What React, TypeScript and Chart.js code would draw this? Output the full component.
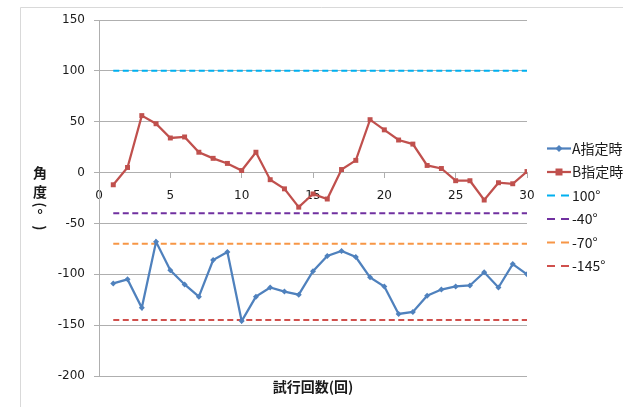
import React, { useEffect, useRef } from "react";
import { Chart, registerables } from "chart.js";

Chart.register(...registerables);

// 試行回数
const trials = [1, 2, 3, 4, 5, 6, 7, 8, 9, 10, 11, 12, 13, 14, 15, 16, 17, 18, 19, 20, 21, 22, 23, 24, 25, 26, 27, 28, 29, 30];

// 角度 (°)
const angleA = [-109, -105, -133, -68, -96, -110, -122, -86, -78, -146, -122, -113, -117, -120, -97, -82, -77, -83, -103, -112, -139, -137, -121, -115, -112, -111, -98, -113, -90, -100];
const angleB = [-12, 5, 56, 48, 34, 35, 20, 14, 9, 2, 20, -7, -16, -34, -21, -26, 3, 12, 52, 42, 32, 28, 7, 4, -8, -8, -27, -10, -11, 1];

// 基準線
const refLevels = [100, -40, -70, -145];
const refLabels = ["100°", "-40°", "-70°", "-145°"];
const refColors = ["#00B0F0", "#7030A0", "#F79646", "#D0504D"];

const seriesNames = ["A指定時", "B指定時"];
const seriesColors = ["#4F81BD", "#C0504D"];

const yTitleChars = ["角", "度", "(", "°", ")"];
const xTitle = "試行回数(回)";

const TICK_FONT = "'DejaVu Sans', 'Noto Sans CJK JP', sans-serif";
const TITLE_FONT = "'Noto Sans CJK JP', 'DejaVu Sans', sans-serif";
const GRID = "#AFAFAF";

const framePlugin = {
  id: "frame",
  beforeDraw(chart: any) {
    const { ctx, width, height } = chart;
    ctx.save();
    ctx.fillStyle = "#ffffff";
    ctx.fillRect(0, 0, width, height);
    ctx.strokeStyle = "#D9D9D9";
    ctx.lineWidth = 1;
    ctx.beginPath();
    ctx.moveTo(20.5, height);
    ctx.lineTo(20.5, 7.5);
    ctx.lineTo(width, 7.5);
    ctx.stroke();
    ctx.restore();
  },
};

const titlesPlugin = {
  id: "axisTitles",
  afterDraw(chart: any) {
    const { ctx, chartArea } = chart;
    ctx.save();
    ctx.fillStyle = "#1a1a1a";
    ctx.font = `bold 14px ${TITLE_FONT}`;
    ctx.textAlign = "center";
    ctx.textBaseline = "middle";
    ctx.fillText(xTitle, (chartArea.left + chartArea.right) / 2, 387);

    // vertical stacked y-axis title
    const ys = [173, 192, 205, 215, 228];
    yTitleChars.forEach((ch, i) => {
      ctx.save();
      ctx.translate(40, ys[i]);
      if (ch === "(" || ch === ")") ctx.rotate(Math.PI / 2);
      ctx.fillText(ch, 0, 0);
      ctx.restore();
    });
    ctx.restore();
  },
};

const legendPlugin = {
  id: "sideLegend",
  afterDraw(chart: any) {
    const { ctx } = chart;
    const x0 = 547;
    const x1 = 571;
    const textX = 572;
    const top = 148.5;
    const step = 23.5;
    ctx.save();
    ctx.font = `14px ${TITLE_FONT}`;
    ctx.textBaseline = "middle";
    ctx.textAlign = "left";
    chart.data.datasets.forEach((ds: any, i: number) => {
      const y = top + i * step;
      ctx.strokeStyle = ds.borderColor;
      ctx.lineWidth = ds.borderWidth;
      if (ds.borderDash) {
        ctx.setLineDash([8, 6]);
        ctx.beginPath();
        ctx.moveTo(x0, y);
        ctx.lineTo(x1 - 2, y);
        ctx.stroke();
        ctx.setLineDash([]);
      } else {
        ctx.beginPath();
        ctx.moveTo(x0, y);
        ctx.lineTo(x1, y);
        ctx.stroke();
      }
      if (ds.pointRadius > 0) {
        const cx = (x0 + x1) / 2;
        ctx.fillStyle = ds.pointBackgroundColor;
        ctx.beginPath();
        if (ds.pointStyle === "rect") {
          const r = ds.pointRadius;
          ctx.rect(cx - r, y - r, r * 2, r * 2);
        } else {
          const r = ds.pointRadius + 0.5;
          ctx.moveTo(cx, y - r);
          ctx.lineTo(cx + r, y);
          ctx.lineTo(cx, y + r);
          ctx.lineTo(cx - r, y);
          ctx.closePath();
        }
        ctx.fill();
      }
      ctx.fillStyle = "#1a1a1a";
      ctx.fillText(ds.label, textX, y);
    });
    ctx.restore();
  },
};

export default function App() {
  const canvasRef = useRef<HTMLCanvasElement | null>(null);

  useEffect(() => {
    if (!canvasRef.current) return;

    const seriesSets = [angleA, angleB].map((vals, i) => ({
      label: seriesNames[i],
      data: trials.map((t, k) => ({ x: t, y: vals[k] })),
      showLine: true,
      borderColor: seriesColors[i],
      backgroundColor: seriesColors[i],
      pointBackgroundColor: seriesColors[i],
      pointBorderColor: seriesColors[i],
      borderWidth: 2.25,
      pointStyle: i === 0 ? "rectRot" : "rect",
      pointRadius: i === 0 ? 3 : 3.5,
      pointBorderWidth: 0,
    }));

    const refSets = refLevels.map((lvl, i) => ({
      label: refLabels[i],
      data: [
        { x: trials[0], y: lvl },
        { x: trials[trials.length - 1], y: lvl },
      ],
      showLine: true,
      borderColor: refColors[i],
      backgroundColor: refColors[i],
      pointBackgroundColor: refColors[i],
      borderWidth: 2,
      borderDash: [6, 3.5],
      pointRadius: 0,
    }));

    const chart = new Chart(canvasRef.current, {
      type: "scatter",
      data: { datasets: [...seriesSets, ...refSets] as any },
      options: {
        animation: false,
        responsive: false,
        events: [],
        layout: { padding: { left: 0, top: 20, right: 96, bottom: 31 } },
        plugins: {
          legend: { display: false },
          tooltip: { enabled: false },
        },
        scales: {
          x: {
            type: "linear",
            position: { y: 0 } as any,
            min: 0,
            max: 30,
            ticks: {
              stepSize: 5,
              padding: 11,
              color: "#1a1a1a",
              font: { family: TICK_FONT, size: 12 },
              maxRotation: 0,
            },
            grid: {
              display: true,
              drawOnChartArea: false,
              drawTicks: true,
              tickLength: 5,
              color: GRID,
            },
            border: { display: true, color: GRID, width: 1 },
          },
          y: {
            type: "linear",
            position: "left",
            min: -200,
            max: 150,
            afterFit: (scale: any) => {
              scale.width = 99;
            },
            ticks: {
              stepSize: 50,
              padding: 9,
              color: "#1a1a1a",
              font: { family: TICK_FONT, size: 12 },
            },
            grid: {
              display: true,
              drawTicks: true,
              tickLength: 5,
              color: GRID,
            },
            border: { display: true, color: GRID, width: 1 },
          },
        },
      },
      plugins: [framePlugin, titlesPlugin, legendPlugin],
    });

    return () => chart.destroy();
  }, []);

  return (
    <div style={{ position: "fixed", left: 0, top: 0, width: 623, height: 407, overflow: "hidden" }}>
      <canvas ref={canvasRef} width={623} height={407} style={{ display: "block" }} />
    </div>
  );
}
